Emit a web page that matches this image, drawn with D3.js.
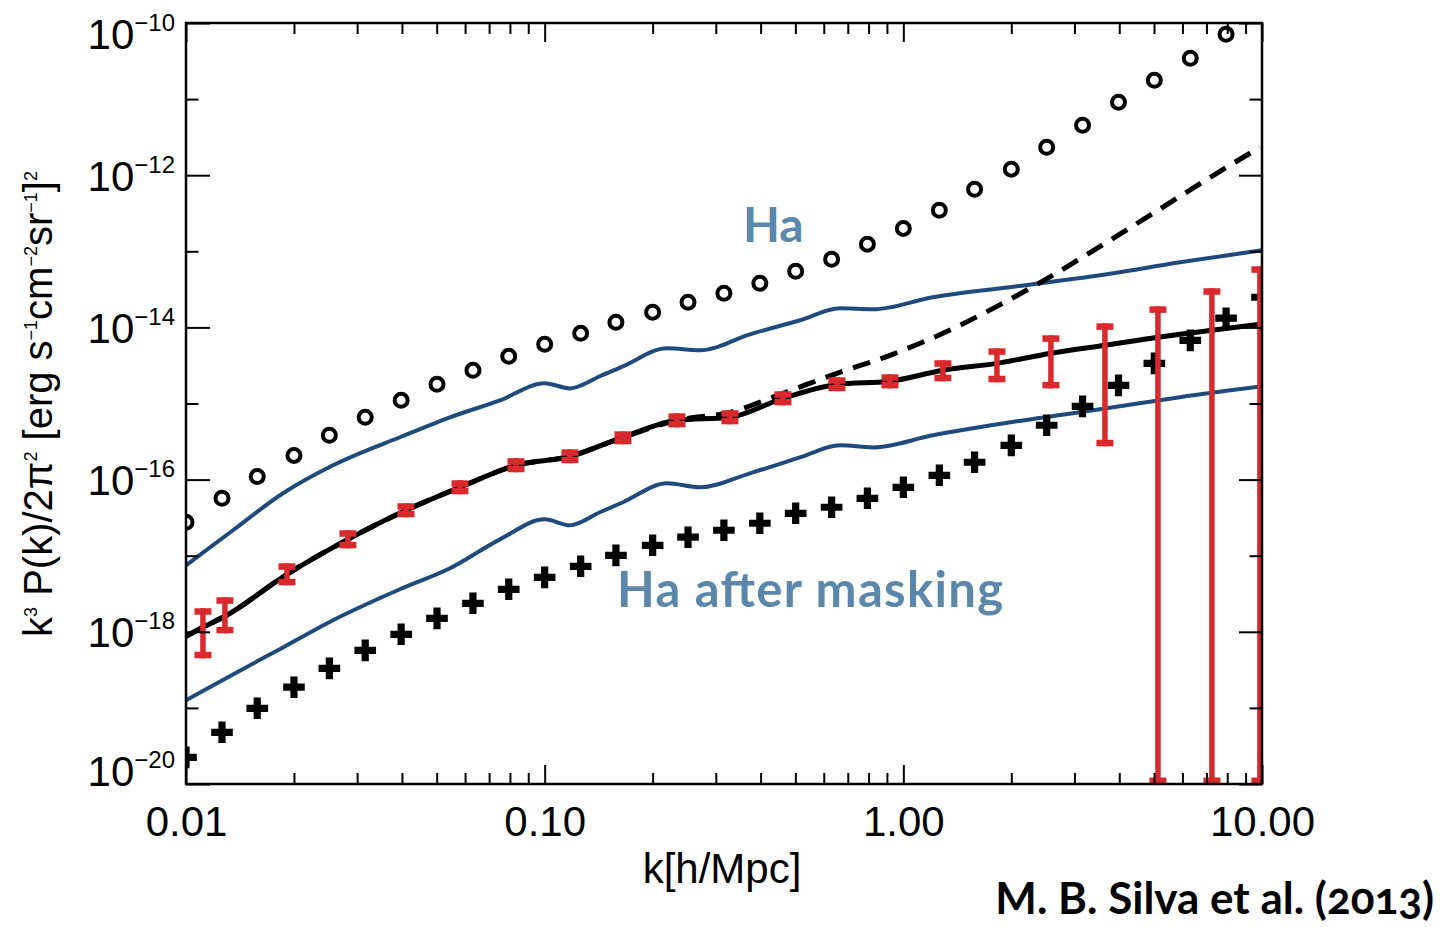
<!DOCTYPE html>
<html>
<head>
<meta charset="utf-8">
<script src="https://cdn.jsdelivr.net/npm/d3@7"></script>
<style>
  html, body { margin: 0; padding: 0; background: #fff; }
  svg { display: block; }
</style>
</head>
<body>
<svg id="chart" width="1449" height="927"></svg>
<script>
// ---------------- DATA ----------------
// k grid of the marker series [h/Mpc]
const kGrid = [0.0100, 0.0126, 0.0158, 0.0200, 0.0251, 0.0316, 0.0398, 0.0501, 0.0631, 0.0794,
               0.100, 0.126, 0.158, 0.200, 0.251, 0.316, 0.398, 0.501, 0.631, 0.794,
               1.00, 1.26, 1.58, 2.00, 2.51, 3.16, 3.98, 5.01, 6.31, 7.94, 10.0];
// open circles
const circleVals = [2.75e-17, 5.68e-17, 1.10e-16, 2.08e-16, 3.82e-16, 6.59e-16, 1.10e-15, 1.79e-15, 2.73e-15, 4.17e-15,
                    6.00e-15, 8.36e-15, 1.17e-14, 1.58e-14, 2.14e-14, 2.81e-14, 3.80e-14, 5.46e-14, 7.85e-14, 1.24e-13,
                    2.00e-13, 3.46e-13, 6.53e-13, 1.20e-12, 2.33e-12, 4.53e-12, 9.08e-12, 1.77e-11, 3.44e-11, 7.11e-11];
// crosses
const crossVals = [2.24e-20, 4.78e-20, 9.88e-20, 1.87e-19, 3.31e-19, 5.71e-19, 9.27e-19, 1.50e-18, 2.37e-18, 3.62e-18,
                   5.20e-18, 7.26e-18, 1.01e-17, 1.37e-17, 1.75e-17, 2.16e-17, 2.67e-17, 3.61e-17, 4.33e-17, 5.68e-17,
                   7.92e-17, 1.14e-16, 1.69e-16, 2.82e-16, 5.18e-16, 9.18e-16, 1.73e-15, 3.37e-15, 6.76e-15, 1.32e-14, 2.49e-14];

// error-bar bins
const kBins = [0.01115, 0.01284, 0.01912, 0.02828, 0.04105, 0.05806, 0.08318, 0.1176, 0.1653, 0.2338,
               0.3285, 0.4617, 0.6530, 0.9177, 1.289, 1.824, 2.579, 3.648, 5.127, 7.250, 9.867];
const errHi = [2.04e-18, 2.84e-18, 7.94e-18, 2.16e-17, 4.89e-17, 9.79e-17, 1.91e-16, 2.50e-16, 4.31e-16, 7.43e-16,
               8.15e-16, 1.45e-15, 2.21e-15, 2.42e-15, 3.70e-15, 5.31e-15, 7.87e-15, 1.13e-14, 1.89e-14, 3.27e-14, 6.35e-14];
const errLo = [4.49e-19, 9.55e-19, 4.08e-18, 1.25e-17, 3.20e-17, 6.41e-17, 1.25e-16, 1.64e-16, 2.91e-16, 4.86e-16,
               5.33e-16, 9.46e-16, 1.45e-15, 1.58e-15, 1.96e-15, 1.90e-15, 1.58e-15, 2.74e-16, 0, 0, 0];

// black solid and dashed curves
const kLine = [0.0100, 0.01115, 0.01284, 0.01912, 0.02828, 0.04105, 0.05806, 0.08318, 0.1176, 0.1653, 0.2338,
               0.3285, 0.4617, 0.6530, 0.9177, 1.289, 1.824, 2.579, 3.648, 5.127, 7.250, 9.867];
const solidVals = [8.73e-19, 1.15e-18, 1.60e-18, 5.70e-18, 1.64e-17, 3.95e-17, 7.92e-17, 1.54e-16, 2.02e-16, 3.60e-16, 6.01e-16,
                   6.59e-16, 1.17e-15, 1.78e-15, 1.96e-15, 2.73e-15, 3.37e-15, 4.57e-15, 5.82e-15, 7.41e-15, 9.16e-15, 1.10e-14];
const dashedVals = [8.73e-19, 1.15e-18, 1.60e-18, 5.70e-18, 1.64e-17, 3.95e-17, 7.92e-17, 1.54e-16, 2.02e-16, 3.60e-16, 6.01e-16,
                    7.66e-16, 1.36e-15, 2.49e-15, 4.30e-15, 8.36e-15, 1.89e-14, 4.69e-14, 1.27e-13, 3.46e-13, 9.68e-13, 2.33e-12];

// blue bounds
const kBlue = [0.0100, 0.01352, 0.01864, 0.0257, 0.03949, 0.05445, 0.07506, 0.100, 0.1176, 0.1426, 0.1653,
               0.2193, 0.2710, 0.3736, 0.5150, 0.6657, 0.8227, 1.209, 2.073, 3.533, 5.903, 10.0];
const blueUpper = [7.48e-18, 2.16e-17, 6.61e-17, 1.54e-16, 3.60e-16, 6.59e-16, 1.10e-15, 1.85e-15, 1.58e-15, 2.28e-15, 3.08e-15,
                   5.31e-15, 5.00e-15, 8.11e-15, 1.24e-14, 1.78e-14, 1.73e-14, 2.49e-14, 3.47e-14, 4.84e-14, 7.16e-14, 1.03e-13];
const blueLower = [1.26e-19, 2.75e-19, 6.24e-19, 1.42e-18, 3.62e-18, 6.83e-18, 1.64e-17, 3.01e-17, 2.51e-17, 3.72e-17, 5.04e-17,
                   8.93e-17, 7.92e-17, 1.21e-16, 1.96e-16, 2.82e-16, 2.65e-16, 3.82e-16, 5.83e-16, 8.39e-16, 1.21e-15, 1.68e-15];

// axes
const xMajorTicks = [0.01, 0.1, 1, 10];
const yMajorTicks = [1e-20, 1e-18, 1e-16, 1e-14, 1e-12, 1e-10];
const yMinorTicks = [1e-19, 1e-17, 1e-15, 1e-13, 1e-11];
const xTitle = "k[h/Mpc]";
const yTitleParts = [["k", 0], ["3", 1], [" P(k)/2π", 0], ["2", 1], [" [erg s", 0], ["−1", 1], ["cm", 0], ["−2", 1], ["sr", 0], ["−1", 1], ["]", 0], ["2", 1]];
const labelHa = "Ha";
const labelMasked = "Ha after masking";
const credit = "M. B. Silva et al. (2013)";

// ---------------- DRAW ----------------
const svg = d3.select("#chart");
const L = 186, R = 1262, T = 23, B = 784;
const x = d3.scaleLog().domain([0.01, 10]).range([L, R]);
const y = d3.scaleLog().domain([1e-20, 1e-10]).range([B, T]);
const yc = v => (v > 0 ? y(v) : B);

const blue = "#1f4a7c", red = "#d8292c", txtBlue = "#5b88aa";
const axisFont = "'Liberation Sans', Arial, Helvetica, sans-serif";

svg.append("defs").append("clipPath").attr("id", "clip")
  .append("rect").attr("x", L).attr("y", T - 1).attr("width", R - L).attr("height", B - T + 2);

const plot = svg.append("g").attr("clip-path", "url(#clip)");

const lineGen = (ks) => d3.line().curve(d3.curveMonotoneX).x((d, i) => x(ks[i])).y(d => y(d));

plot.append("path").datum(blueUpper).attr("d", lineGen(kBlue))
  .attr("fill", "none").attr("stroke", blue).attr("stroke-width", 4);
plot.append("path").datum(blueLower).attr("d", lineGen(kBlue))
  .attr("fill", "none").attr("stroke", blue).attr("stroke-width", 4);
plot.append("path").datum(solidVals).attr("d", lineGen(kLine))
  .attr("fill", "none").attr("stroke", "#000").attr("stroke-width", 5);
plot.append("path").datum(dashedVals).attr("d", lineGen(kLine))
  .attr("fill", "none").attr("stroke", "#000").attr("stroke-width", 5)
  .attr("stroke-dasharray", "18,11");

plot.append("g").selectAll("circle").data(circleVals).join("circle")
  .attr("cx", (d, i) => x(kGrid[i])).attr("cy", d => y(d)).attr("r", 6.5)
  .attr("fill", "none").attr("stroke", "#000").attr("stroke-width", 4);

const crossPath = d3.symbol().type(d3.symbolCross).size(260)();
plot.append("g").selectAll("path").data(crossVals).join("path")
  .attr("d", crossPath)
  .attr("transform", (d, i) => `translate(${x(kGrid[i])},${y(d)})`)
  .attr("fill", "#000");

const eb = plot.append("g").selectAll("g").data(kBins).join("g");
eb.append("rect")
  .attr("x", d => x(d) - 2.75).attr("width", 5.5)
  .attr("y", (d, i) => y(errHi[i])).attr("height", (d, i) => yc(errLo[i]) - y(errHi[i]))
  .attr("fill", red);
eb.append("rect")
  .attr("x", d => x(d) - 8.5).attr("width", 17)
  .attr("y", (d, i) => y(errHi[i])).attr("height", 6.5).attr("fill", red);
eb.append("rect")
  .attr("x", d => x(d) - 8.5).attr("width", 17)
  .attr("y", (d, i) => yc(errLo[i]) - 6.5).attr("height", 6.5).attr("fill", red);

// frame
svg.append("rect").attr("x", L).attr("y", T).attr("width", R - L).attr("height", B - T)
  .attr("fill", "none").attr("stroke", "#000").attr("stroke-width", 2.5);

// minor x ticks
const xMinor = [];
[0.01, 0.1, 1].forEach(dec => { for (let m = 2; m <= 9; m++) xMinor.push(dec * m); });

function styleAxis(g) {
  g.select(".domain").remove();
  g.selectAll(".tick line").attr("stroke", "#000").attr("stroke-width", 2);
}

// bottom
svg.append("g").attr("transform", `translate(0,${B})`)
  .call(d3.axisBottom(x).tickValues(xMinor).tickSize(-11).tickFormat(""))
  .call(styleAxis);
svg.append("g").attr("transform", `translate(0,${B})`)
  .call(d3.axisBottom(x).tickValues(xMajorTicks).tickSize(-19).tickPadding(22).tickFormat(d3.format(".2f")))
  .call(styleAxis)
  .call(g => g.selectAll(".tick text").attr("font-family", axisFont).attr("font-size", 42).attr("fill", "#000"));
// top
svg.append("g").attr("transform", `translate(0,${T})`)
  .call(d3.axisTop(x).tickValues(xMinor).tickSize(-11).tickFormat("")).call(styleAxis);
svg.append("g").attr("transform", `translate(0,${T})`)
  .call(d3.axisTop(x).tickValues(xMajorTicks).tickSize(-19).tickFormat("")).call(styleAxis);

// left
svg.append("g").attr("transform", `translate(${L},0)`)
  .call(d3.axisLeft(y).tickValues(yMinorTicks).tickSize(-12.5).tickFormat("")).call(styleAxis);
svg.append("g").attr("transform", `translate(${L},0)`)
  .call(d3.axisLeft(y).tickValues(yMajorTicks).tickSize(-24).tickPadding(11).tickFormat(""))
  .call(styleAxis)
  .call(g => g.selectAll(".tick text").each(function (d) {
    const e = Math.round(Math.log10(d));
    const t = d3.select(this).attr("font-family", axisFont).attr("fill", "#000").attr("dy", null);
    let shift = 0;
    if (d === y.domain()[1]) shift = 10;
    if (d === y.domain()[0]) shift = -14;
    t.attr("y", 15 + shift);
    t.append("tspan").attr("font-size", 42).text("10");
    t.append("tspan").attr("font-size", 24).attr("dy", -18).text("−" + Math.abs(e));
  }));
// right
svg.append("g").attr("transform", `translate(${R},0)`)
  .call(d3.axisRight(y).tickValues(yMinorTicks).tickSize(-12.5).tickFormat("")).call(styleAxis);
svg.append("g").attr("transform", `translate(${R},0)`)
  .call(d3.axisRight(y).tickValues(yMajorTicks).tickSize(-23).tickFormat("")).call(styleAxis);

// axis titles
svg.append("text").attr("x", 722).attr("y", 883).attr("text-anchor", "middle")
  .attr("font-family", axisFont).attr("font-size", 42).attr("fill", "#000").text(xTitle);

const yt = svg.append("text").attr("transform", "translate(52,404) rotate(-90)")
  .attr("text-anchor", "middle").attr("font-family", axisFont).attr("fill", "#000");
let raised = false;
yTitleParts.forEach(([s, sup]) => {
  const ts = yt.append("tspan").text(s).attr("font-size", sup ? 18 : 40);
  if (sup && !raised) { ts.attr("dy", -15); raised = true; }
  else if (!sup && raised) { ts.attr("dy", 15); raised = false; }
});

// annotations
const annFont = "Lato, 'Open Sans', sans-serif";
svg.append("text").attr("x", 743).attr("y", 242).attr("font-family", annFont).attr("font-weight", 700)
  .attr("font-size", 48).attr("fill", txtBlue).text(labelHa);
svg.append("text").attr("x", 617).attr("y", 607).attr("font-family", annFont).attr("font-weight", 700)
  .attr("font-size", 49).attr("textLength", 386).attr("lengthAdjust", "spacing")
  .attr("fill", txtBlue).text(labelMasked);
svg.append("text").attr("x", 1434).attr("y", 914).attr("text-anchor", "end")
  .attr("font-family", annFont).attr("font-weight", 700).attr("font-size", 44)
  .style("font-variant-numeric", "oldstyle-nums").attr("fill", "#000").text(credit);
</script>
</body>
</html>
